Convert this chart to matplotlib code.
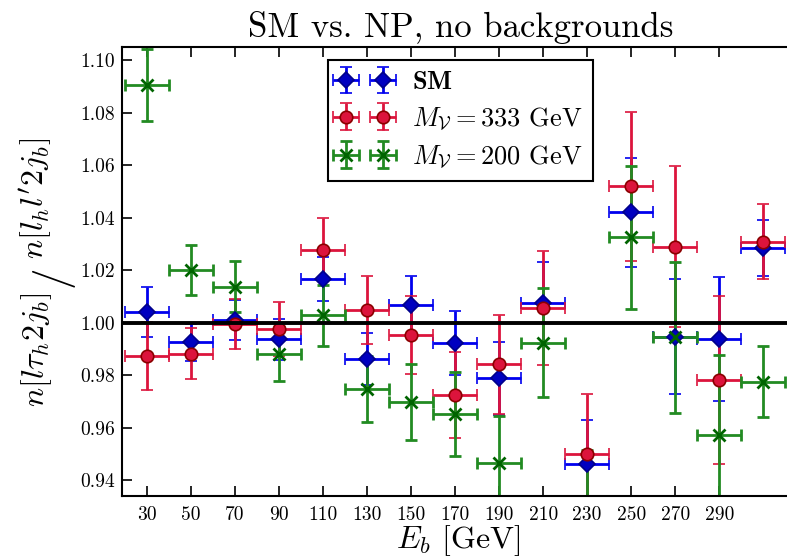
import matplotlib
matplotlib.use("Agg")
import matplotlib.pyplot as plt
import numpy as np

plt.rcParams['font.family'] = ['cmr10', 'DejaVu Serif']
plt.rcParams['mathtext.fontset'] = 'cm'
plt.rcParams['axes.unicode_minus'] = False
plt.rcParams['axes.formatter.use_mathtext'] = True

# ---- data ----
energy = [30, 50, 70, 90, 110, 130, 150, 170, 190, 210, 230, 250, 270, 290, 310]
energy_halfwidth = 10

sm_ratio = [1.0042, 0.9925, 1.0010, 0.9937, 1.0166, 0.9862, 1.0067, 0.9924,
            0.9788, 1.0076, 0.9461, 1.0421, 0.9947, 0.9938, 1.0283]
sm_err = [0.0095, 0.0070, 0.0075, 0.0078, 0.0085, 0.0098, 0.0110, 0.0122,
          0.0140, 0.0156, 0.0168, 0.0208, 0.0218, 0.0237, 0.0107]

np333_ratio = [0.9873, 0.9881, 0.9995, 0.9975, 1.0277, 1.0048, 0.9953, 0.9725,
               0.9841, 1.0055, 0.9499, 1.0520, 1.0290, 0.9782, 1.0309]
np333_err = [0.0130, 0.0097, 0.0096, 0.0103, 0.0120, 0.0131, 0.0150, 0.0165,
             0.0188, 0.0217, 0.0228, 0.0284, 0.0305, 0.0320, 0.0143]

np200_ratio = [1.0905, 1.0201, 1.0137, 0.9881, 1.0029, 0.9746, 0.9698, 0.9651,
               0.9464, 0.9924, 0.9300, 1.0325, 0.9944, 0.9572, 0.9775]
np200_err = [0.0137, 0.0096, 0.0098, 0.0103, 0.0116, 0.0126, 0.0145, 0.0160,
             0.0180, 0.0208, 0.0215, 0.0272, 0.0288, 0.0305, 0.0135]

xtick_values = [30, 50, 70, 90, 110, 130, 150, 170, 190, 210, 230, 250, 270, 290]
ytick_values = [0.94, 0.96, 0.98, 1.00, 1.02, 1.04, 1.06, 1.08, 1.10]

labels = [r'$\mathbf{SM}$', r'$M_{\mathcal{V}} = 333$ GeV', r'$M_{\mathcal{V}} = 200$ GeV']
ylabel_num = r'$n[l\tau_h 2j_b]$'
ylabel_den = r"$n[l_h l^\prime 2j_b]$"

# ---- figure ----
W, H = 787, 558
fig = plt.figure(figsize=(W / 100, H / 100), dpi=100)
ax = fig.add_axes([122.3 / W, 62 / H, (800 - 122.3) / W, 449.3 / H])

common = dict(elinewidth=2, capsize=4, capthick=2, linestyle='none')
ax.errorbar(energy, sm_ratio, xerr=energy_halfwidth, yerr=sm_err, fmt='D',
            color='#0000ee', ecolor='#0000ee', mfc='#0000c0', mec='#00008b',
            ms=8, mew=1.2, label=labels[0], **common)
ax.errorbar(energy, np333_ratio, xerr=energy_halfwidth, yerr=np333_err, fmt='o',
            color='crimson', ecolor='crimson', mfc='crimson', mec='#8b0000',
            ms=9, mew=1.2, label=labels[1], **common)
ax.errorbar(energy, np200_ratio, xerr=energy_halfwidth, yerr=np200_err, fmt='x',
            color='forestgreen', ecolor='forestgreen', mfc='darkgreen', mec='darkgreen',
            ms=9, mew=2, label=labels[2], **common)

ax.axhline(1.0, color='black', lw=2.8, zorder=3)

ax.set_xlim(18.8, 18.8 + (800 - 122.3) / 2.201)
ax.set_ylim(0.934, 1.1051)
ax.set_xticks(xtick_values)
ax.set_xticklabels([str(v) for v in xtick_values])
ax.set_yticks(ytick_values)
ax.set_yticklabels(['%.2f' % v for v in ytick_values])

ax.tick_params(axis='both', which='major', direction='in', length=7, width=1.2,
               top=True, right=True, labelsize=14)
ax.tick_params(axis='x', pad=7)
ax.tick_params(axis='y', pad=5)
for sp in ax.spines.values():
    sp.set_linewidth(1.5)

ax.set_title('SM vs. NP, no backgrounds', fontsize=25, pad=7)
ax.set_xlabel(r'$E_b$ [GeV]', fontsize=23)
ax.xaxis.set_label_coords((458 - 122.3) / (800 - 122.3), -0.0605)

# y label: numerator, big slash, denominator (rotated)
def rot_text(s, x_img, y_img, fs, ha='left', va='baseline'):
    return fig.text(x_img / W, 1 - y_img / H, s, rotation=90, rotation_mode='anchor',
                    ha=ha, va=va, fontsize=fs)

rot_text(ylabel_num, 44, 407, 23)
rot_text(r'$/$', 54, 279, 31, ha='center', va='center')
rot_text(ylabel_den, 44, 259, 23)

leg = ax.legend(loc='upper left', bbox_to_anchor=(327.7 / W, 1 - 60 / H),
                bbox_transform=fig.transFigure, numpoints=2, fontsize=19,
                fancybox=False, framealpha=1, edgecolor='black',
                borderpad=0.4, handlelength=2.0, handletextpad=0.8,
                labelspacing=0.45, borderaxespad=0)
leg.get_frame().set_linewidth(1.5)

fig.savefig('out.png', dpi=100)
